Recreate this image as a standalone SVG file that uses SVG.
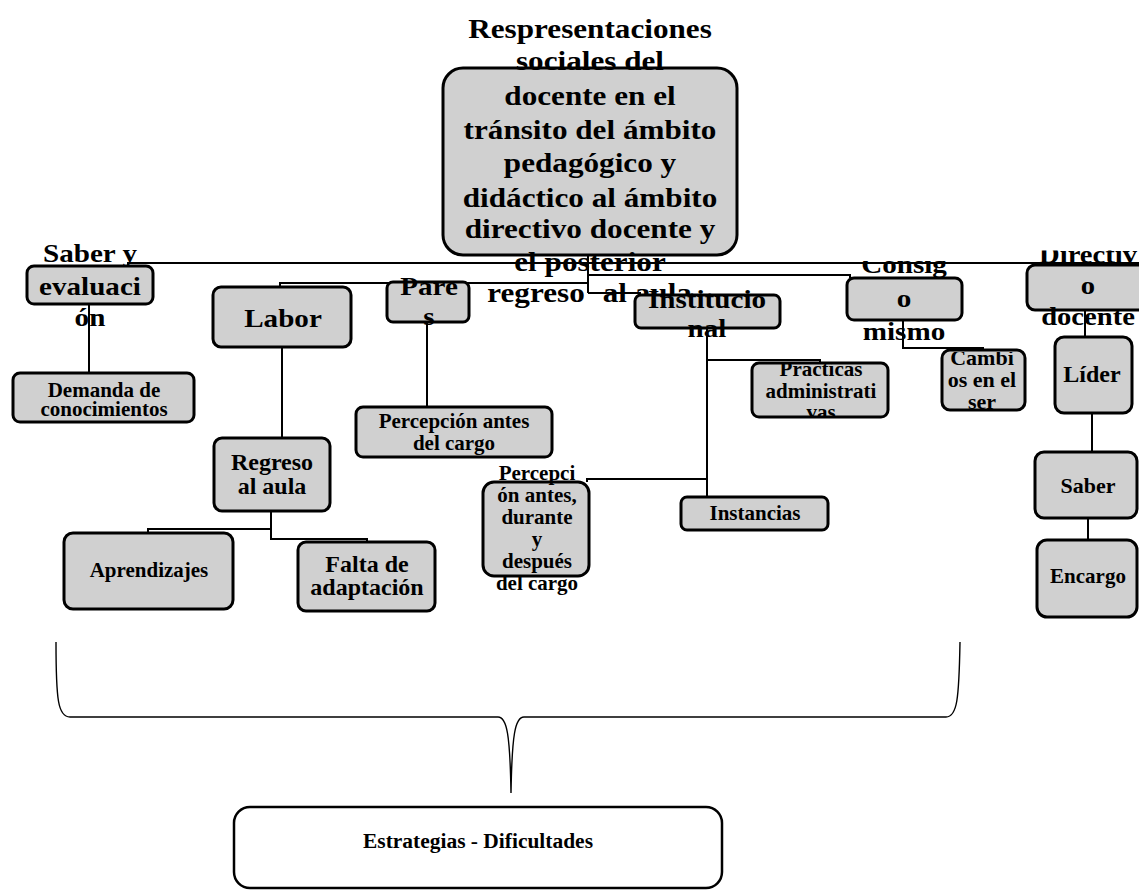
<svg xmlns="http://www.w3.org/2000/svg" width="1139" height="890" viewBox="0 0 1139 890">
  <style>
    .box { fill: #d0d0d0; stroke: #000; stroke-width: 3; }
    .plain { fill: #fff; stroke: #000; stroke-width: 2.5; }
    .con { fill: none; stroke: #000; stroke-width: 2; }
    .brace { fill: none; stroke: #000; stroke-width: 1.4; }
    text { font-family: "Liberation Serif", "Times New Roman", serif; font-weight: bold; fill: #000; text-anchor: middle; }
    .title { font-size: 27px; }
    .big { font-size: 26px; }
    .mid { font-size: 24px; }
    .sm { font-size: 21px; }
    .st { text-anchor: start; }
  </style>
  <defs>
    <clipPath id="clipPracticas"><rect x="740" y="364" width="160" height="52"/></clipPath>
    <clipPath id="clipCambios"><rect x="930" y="352" width="110" height="58"/></clipPath>
    <clipPath id="clipDirectivo"><rect x="1000" y="250.5" width="139" height="90"/></clipPath>
    <clipPath id="clipConsigo"><rect x="830" y="261" width="150" height="90"/></clipPath>
  </defs>

  <rect width="1139" height="890" fill="#fff"/>

  <!-- connectors -->
  <g id="connectors">
    <path class="con" d="M588,255 V293"/>
    <path class="con" d="M128,266 V263 H1139"/>
    <path class="con" d="M588,275 H850 V278"/>
    <path class="con" d="M588,283 H280 V287"/>
    <path class="con" d="M588,293 H640 V295"/>
    <path class="con" d="M89,304 V373"/>
    <path class="con" d="M282,347 V438"/>
    <path class="con" d="M271,511 V529 H148 V533"/>
    <path class="con" d="M271,529 V539 H367 V542"/>
    <path class="con" d="M427,322 V407"/>
    <path class="con" d="M707,328 V497"/>
    <path class="con" d="M707,360 H820 V363"/>
    <path class="con" d="M707,479 H587 V482"/>
    <path class="con" d="M903,320 V348 H983 V350"/>
    <path class="con" d="M1085,310 V337"/>
    <path class="con" d="M1092,413 V452"/>
    <path class="con" d="M1088,518 V540"/>
    <!-- grouping brace -->
    <path class="brace" d="M56,642 C56,700 58,717 70,717 L498,717 C507,717 510,735 511,793 C512,735 515,717 524,717 L946,717 C957,717 959,700 960,642"/>
  </g>

  <!-- central topic -->
  <g id="n-central">
    <rect class="box" x="443" y="68" width="294" height="187" rx="20"/>
    <g transform="translate(590 0) scale(1.155 1)">
      <text class="title" x="0" y="38">Respresentaciones</text>
      <text class="title" x="0" y="70">sociales del</text>
      <text class="title" x="0" y="105">docente en el</text>
      <text class="title" x="0" y="139">tránsito del ámbito</text>
      <text class="title" x="0" y="172">pedagógico y</text>
      <text class="title" x="0" y="207">didáctico al ámbito</text>
      <text class="title" x="0" y="238">directivo docente y</text>
      <text class="title" x="0" y="271">el posterior</text>
      <text class="title st" x="-89" y="302">regreso</text>
      <text class="title st" x="11" y="302">al aula</text>
    </g>
  </g>

  <g id="n-saber-evaluacion">
    <rect class="box" x="27" y="266" width="126" height="38" rx="7"/>
    <g transform="translate(90 0) scale(1.12 1)">
      <text class="big" x="0" y="262">Saber y</text>
      <text class="big" x="0" y="295">evaluaci</text>
      <text class="big" x="0" y="326">ón</text>
    </g>
  </g>

  <g id="n-demanda">
    <rect class="box" x="13" y="373" width="181" height="49" rx="7"/>
    <text class="sm" x="104" y="397">Demanda de</text>
    <text class="sm" x="104" y="416">conocimientos</text>
  </g>

  <g id="n-labor">
    <rect class="box" x="213" y="287" width="138" height="60" rx="8"/>
    <g transform="translate(283 0) scale(1.12 1)">
      <text class="big" x="0" y="327">Labor</text>
    </g>
  </g>

  <g id="n-regreso">
    <rect class="box" x="214" y="438" width="116" height="73" rx="8"/>
    <text class="mid" x="272" y="470">Regreso</text>
    <text class="mid" x="272" y="494">al aula</text>
  </g>

  <g id="n-aprendizajes">
    <rect class="box" x="64" y="533" width="169" height="76" rx="9"/>
    <text class="sm" x="149" y="577">Aprendizajes</text>
  </g>

  <g id="n-falta">
    <rect class="box" x="298" y="542" width="137" height="69" rx="8"/>
    <text class="mid" x="367" y="572">Falta de</text>
    <text class="mid" x="367" y="595">adaptación</text>
  </g>

  <g id="n-pares">
    <rect class="box" x="387" y="282" width="82" height="40" rx="6"/>
    <g transform="translate(429 0) scale(1.12 1)">
      <text class="big" x="0" y="295">Pare</text>
      <text class="big" x="0" y="325">s</text>
    </g>
  </g>

  <g id="n-percepcion-antes">
    <rect class="box" x="356" y="407" width="196" height="50" rx="7"/>
    <text class="sm" x="454" y="428">Percepción antes</text>
    <text class="sm" x="454" y="450">del cargo</text>
  </g>

  <g id="n-percepcion-ciclo">
    <rect class="box" x="483" y="482" width="106" height="94" rx="11"/>
    <text class="sm" x="537" y="480">Percepci</text>
    <text class="sm" x="537" y="502">ón antes,</text>
    <text class="sm" x="537" y="524">durante</text>
    <text class="sm" x="537" y="546">y</text>
    <text class="sm" x="537" y="568">después</text>
    <text class="sm" x="537" y="590">del cargo</text>
  </g>

  <g id="n-institucional">
    <rect class="box" x="635" y="295" width="145" height="33" rx="6"/>
    <g transform="translate(707 0) scale(1.12 1)">
      <text class="big" x="0" y="308">Institucio</text>
      <text class="big" x="0" y="337">nal</text>
    </g>
  </g>

  <g id="n-practicas">
    <rect class="box" x="752" y="363" width="136" height="54" rx="7"/>
    <g clip-path="url(#clipPracticas)">
      <text class="sm" x="821" y="376">Practicas</text>
      <text class="sm" x="821" y="398">administrati</text>
      <text class="sm" x="821" y="419">vas</text>
    </g>
  </g>

  <g id="n-instancias">
    <rect class="box" x="681" y="497" width="147" height="33" rx="6"/>
    <text class="sm" x="755" y="520">Instancias</text>
  </g>

  <g id="n-consigo">
    <rect class="box" x="847" y="278" width="115" height="42" rx="7"/>
    <g clip-path="url(#clipConsigo)">
      <g transform="translate(904 0) scale(1.12 1)">
        <text class="big" x="0" y="273">Consig</text>
        <text class="big" x="0" y="307">o</text>
        <text class="big" x="0" y="340">mismo</text>
      </g>
    </g>
  </g>

  <g id="n-cambios">
    <rect class="box" x="942" y="350" width="83" height="60" rx="8"/>
    <g clip-path="url(#clipCambios)">
      <text class="sm" x="982" y="365" style="font-size:22px">Cambi</text>
      <text class="sm" x="982" y="387" style="font-size:22px">os en el</text>
      <text class="sm" x="982" y="409" style="font-size:22px">ser</text>
    </g>
  </g>

  <g id="n-directivo">
    <rect class="box" x="1027" y="265" width="124" height="45" rx="8"/>
    <g clip-path="url(#clipDirectivo)">
      <g transform="translate(1088 0) scale(1.1 1)">
        <text class="big" x="0" y="263">Directiv</text>
        <text class="big" x="0" y="294">o</text>
        <text class="big" x="0" y="325">docente</text>
      </g>
    </g>
  </g>

  <g id="n-lider">
    <rect class="box" x="1055" y="337" width="77" height="76" rx="9"/>
    <text class="mid" x="1092" y="382">Líder</text>
  </g>

  <g id="n-saber">
    <rect class="box" x="1035" y="452" width="102" height="66" rx="9"/>
    <text class="sm" x="1088" y="493" style="font-size:22px">Saber</text>
  </g>

  <g id="n-encargo">
    <rect class="box" x="1037" y="540" width="100" height="77" rx="10"/>
    <text class="sm" x="1088" y="583">Encargo</text>
  </g>

  <g id="n-estrategias">
    <rect class="plain" x="234" y="807" width="488" height="81" rx="16"/>
    <text class="sm" x="478" y="848" style="font-size:20px" textLength="230" lengthAdjust="spacingAndGlyphs">Estrategias - Dificultades</text>
  </g>
</svg>
